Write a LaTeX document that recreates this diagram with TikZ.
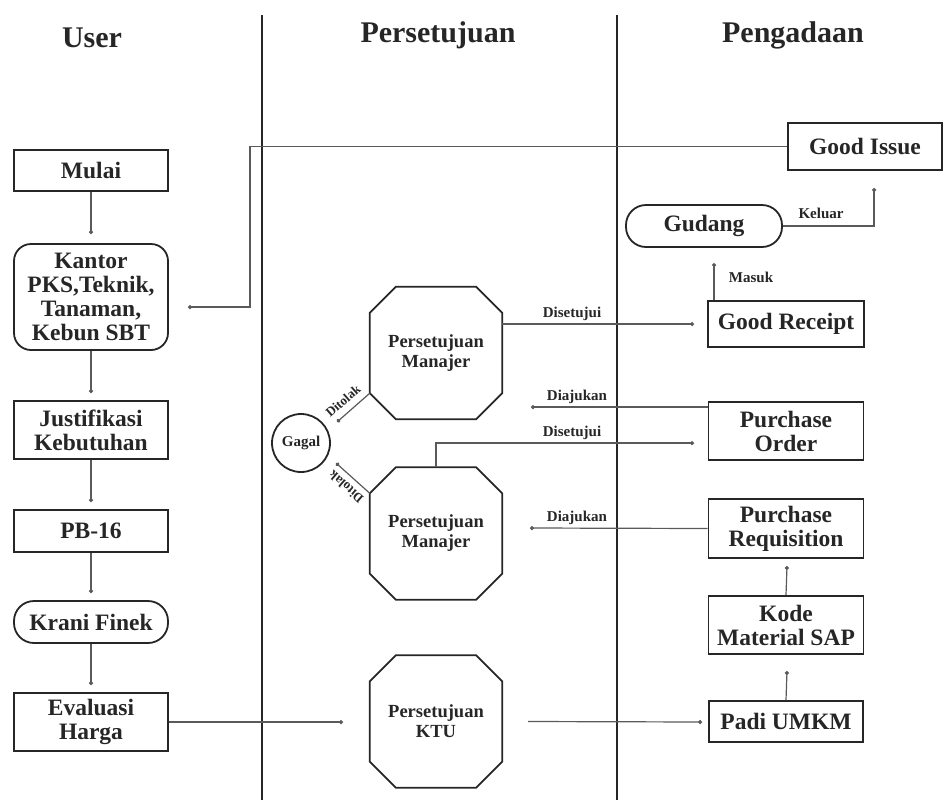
\documentclass[tikz,border=0pt]{standalone}
\usepackage{fontspec}
\setmainfont{Liberation Serif}
\usetikzlibrary{arrows.meta,calc}
\definecolor{ink}{HTML}{262626}
\definecolor{wire}{HTML}{5A5A5A}
\newcommand\octagonof[1]{%
  \draw[octline] ($(#1.north west)+(26,0)$) -- ($(#1.north east)+(-26,0)$)
    -- ($(#1.north east)+(0,26)$) -- ($(#1.south east)+(0,-26)$)
    -- ($(#1.south east)+(-26,0)$) -- ($(#1.south west)+(26,0)$)
    -- ($(#1.south west)+(0,-26)$) -- ($(#1.north west)+(0,26)$) -- cycle;}
\begin{document}
\begin{tikzpicture}[x=1pt,y=-1pt,
  lane/.style={draw=ink,line width=2.8pt},
  title/.style={font=\fontsize{30}{34}\selectfont\bfseries,text=ink,anchor=base},
  box/.style={draw=ink,line width=1.8pt,fill=white,text=ink,align=center,inner sep=0pt,
    font=\fontsize{23.5}{24}\selectfont\bfseries,minimum width=154pt},
  rbox/.style={box,rounded corners=17pt},
  stad/.style={box,rounded corners=20pt},
  octframe/.style={minimum width=132pt,minimum height=132pt,inner sep=0pt,align=center,
    text=ink,font=\fontsize{18.5}{20}\selectfont\bfseries},
  octline/.style={draw=ink,line width=1.8pt},
  conn/.style={draw=wire,line width=1.2pt,-{Circle[length=4pt]}},
  lbl/.style={font=\fontsize{15}{17}\selectfont\bfseries,text=ink,inner sep=1pt},
  slbl/.style={font=\fontsize{13}{15}\selectfont\bfseries,text=ink,inner sep=0pt}]
\useasboundingbox (0,0) rectangle (943,804);
% lanes
\draw[lane] (262,15) -- (262,800);
\draw[lane] (617,15) -- (617,800);
\node[title] (tu) at (92,47) {User};
\node[title] (tp) at (438,42) {Persetujuan};
\node[title] (tg) at (793,42) {Pengadaan};
% user lane
\node[box,minimum height=41pt] (mulai) at (91,170.5) {Mulai};
\node[rbox,minimum height=106pt] (kantor) at (91,297) {Kantor\\PKS,Teknik,\\Tanaman,\\Kebun SBT};
\node[box,minimum height=58pt] (just) at (91,430) {Justifikasi\\Kebutuhan};
\node[box,minimum height=42pt] (pb) at (91,531) {PB-16};
\node[stad,minimum height=42pt] (krani) at (91,622) {Krani Finek};
\node[box,minimum height=58pt] (eval) at (91,722) {Evaluasi\\Harga};
\coordinate (d1) at (91,234);
\coordinate (d2) at (91,393);
\coordinate (d3) at (91,502);
\coordinate (d4) at (91,593);
\coordinate (d5) at (91,685);
\draw[conn] (mulai) -- (d1);
\draw[conn] (kantor) -- (d2);
\draw[conn] (just) -- (d3);
\draw[conn] (pb) -- (d4);
\draw[conn] (krani) -- (d5);
% persetujuan lane
\node[octframe] (m1) at (436,353) {Persetujuan\\Manajer};
\node[octframe] (m2) at (436,533.5) {Persetujuan\\Manajer};
\node[octframe] (ktu) at (436,721.5) {Persetujuan\\KTU};
\octagonof{m1}
\octagonof{m2}
\octagonof{ktu}
\node[draw=ink,line width=1.8pt,circle,minimum size=58pt,inner sep=0pt,text=ink,
  font=\fontsize{15}{17}\selectfont\bfseries] (gagal) at (301,443) {Gagal};
% pengadaan lane
\node[box,minimum height=47pt] (gi) at (865,146.5) {Good Issue};
\node[stad,minimum width=156pt,minimum height=42pt] (gud) at (704,226) {Gudang};
\node[box,minimum width=156pt,minimum height=46pt] (gr) at (786,324) {Good Receipt};
\node[box,minimum width=155pt,minimum height=58pt] (po) at (786,431) {Purchase\\Order};
\node[box,minimum width=155pt,minimum height=59pt] (pr) at (786,528.5) {Purchase\\Requisition};
\node[box,minimum width=155pt,minimum height=58pt] (kode) at (786,625) {Kode\\Material SAP};
\node[box,minimum height=41pt] (padi) at (786,721.5) {Padi UMKM};
% connector ends
\coordinate (kdot) at (188,307);
\coordinate (ktudot) at (343,722);
\coordinate (padidot) at (702,722);
\coordinate (grdot) at (694,324);
\coordinate (podot) at (694,443);
\coordinate (aj1) at (531,407);
\coordinate (aj2) at (530,528);
\coordinate (tol1) at (337,422);
\coordinate (tol2) at (336,463);
\coordinate (gudin) at (714,263);
\coordinate (gidot) at (874,188);
\coordinate (prdot) at (787,566);
\coordinate (kodedot) at (787,671);
% connectors
\draw[conn] (gi.west) -| (250,250) |- (kdot);
\draw[conn] (eval.east) -- (ktudot);
\draw[conn] ($(ktu.east)+(26,0)$) -- (padidot);
\draw[conn] (m1.east |- grdot) -- (grdot);
\node[lbl,anchor=south] (ls1) at (572,322) {Disetujui};
\draw[conn] (m2.north) |- (podot);
\node[lbl,anchor=south] (ls2) at (572,441) {Disetujui};
\draw[conn] (po.west |- aj1) -- (aj1);
\node[lbl,anchor=south] (la1) at (577,405) {Diajukan};
\draw[conn] (pr.west) -- (aj2);
\node[lbl,anchor=south] (la2) at (577,526) {Diajukan};
\draw[conn] ($(m1.south west)+(0,-26)$) -- (tol1);
\draw[conn] ($(m2.north west)+(0,26)$) -- (tol2);
\node[slbl,rotate=41] (tl1) at (343,401) {Ditolak};
\node[slbl,rotate=139] (tl2) at (346,487) {Ditolak};
\draw[conn] (gr.north -| gudin) -- (gudin);
\node[lbl] (lm) at (751,277) {Masuk};
\draw[conn] (gud.east) -| (gidot);
\node[lbl] (lk) at (821,213) {Keluar};
\draw[conn] (kode.north) -- (prdot);
\draw[conn] (padi.north) -- (kodedot);
\end{tikzpicture}
\end{document}
